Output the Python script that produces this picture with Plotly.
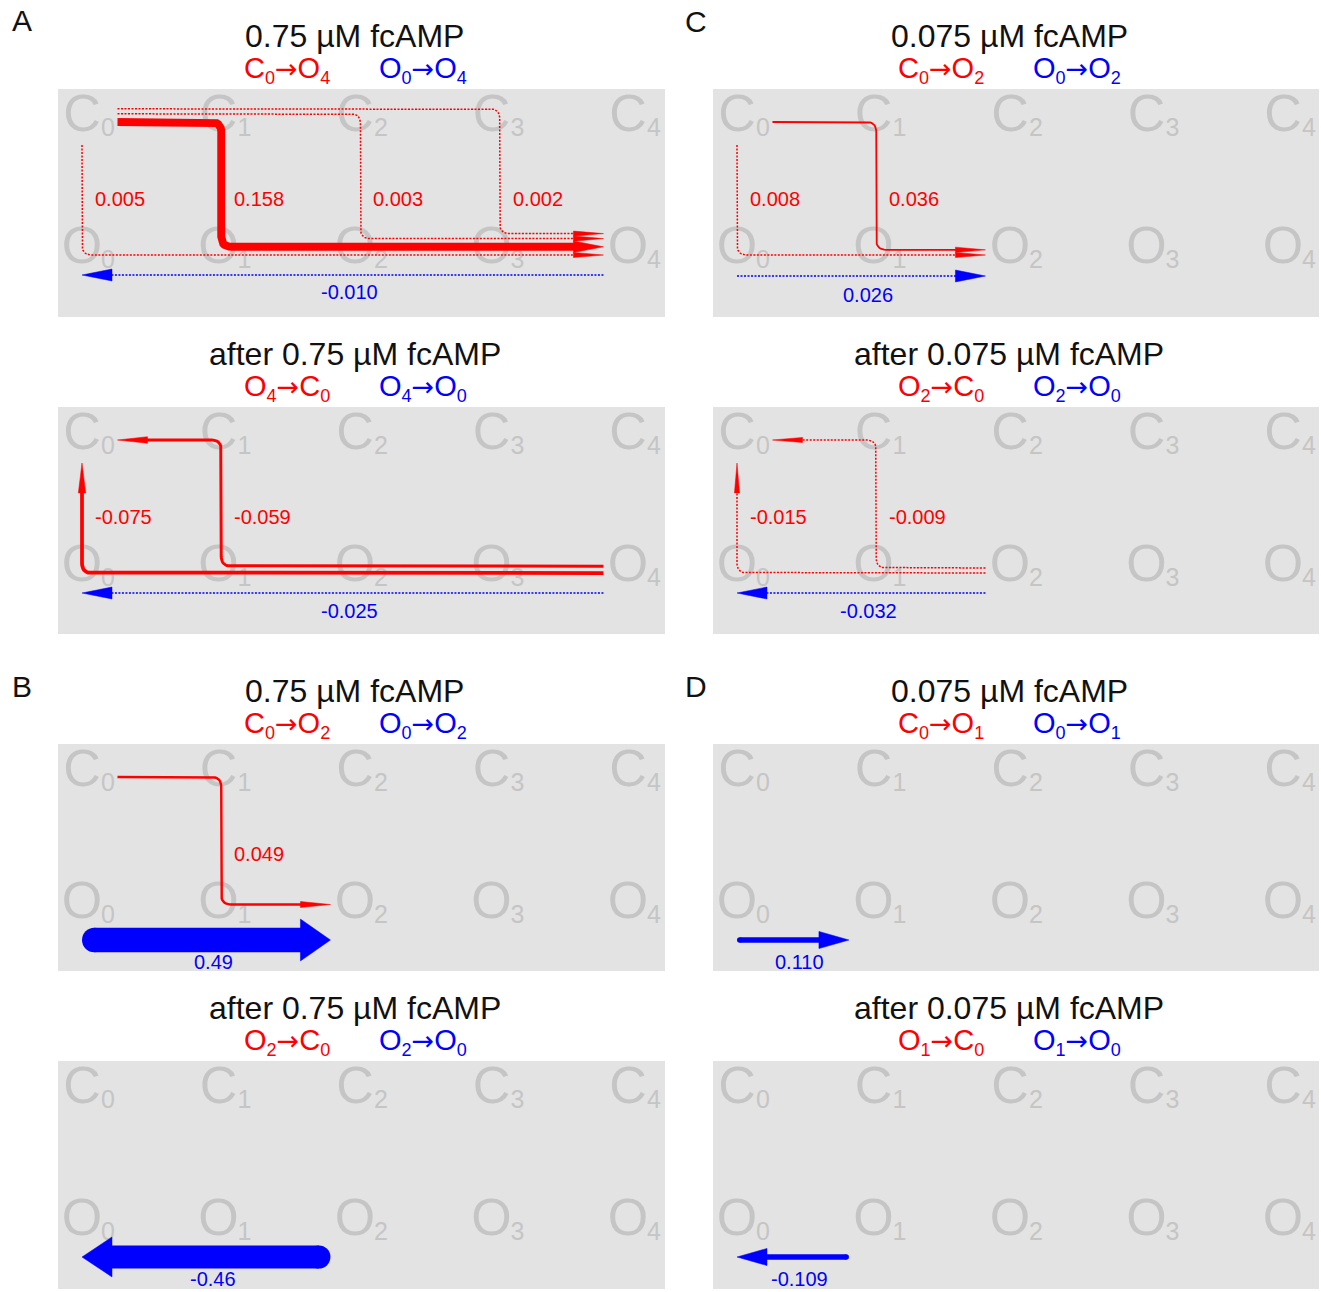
import numpy as np
import plotly.graph_objects as go

# ---------------- data ----------------
panel_ids = ["A1", "A2", "C1", "C2", "B1", "B2", "D1", "D2"]
panel_letters = {"A1": "A", "C1": "C", "B1": "B", "D1": "D"}
titles = ["0.75 µM fcAMP", "after 0.75 µM fcAMP", "0.075 µM fcAMP", "after 0.075 µM fcAMP",
          "0.75 µM fcAMP", "after 0.75 µM fcAMP", "0.075 µM fcAMP", "after 0.075 µM fcAMP"]
red_from = ["C0", "O4", "C0", "O2", "C0", "O2", "C0", "O1"]
red_to = ["O4", "C0", "O2", "C0", "O2", "C0", "O1", "C0"]
blue_from = ["O0", "O4", "O0", "O2", "O0", "O2", "O0", "O1"]
blue_to = ["O4", "O0", "O2", "O0", "O2", "O0", "O1", "O0"]
target_state = [4, 4, 2, 2, 2, 2, 1, 1]
# red paths: column k where the C->O transition happens, and flux value
red_cols = [[0, 1, 2, 3], [0, 1], [0, 1], [0, 1], [1], [], [], []]
red_vals = [[0.005, 0.158, 0.003, 0.002], [-0.075, -0.059], [0.008, 0.036],
            [-0.015, -0.009], [0.049], [], [], []]
red_labels = [["0.005", "0.158", "0.003", "0.002"], ["-0.075", "-0.059"], ["0.008", "0.036"],
              ["-0.015", "-0.009"], ["0.049"], [], [], []]
blue_vals = [-0.010, -0.025, 0.026, -0.032, 0.49, -0.46, 0.110, -0.109]
blue_labels = ["-0.010", "-0.025", "0.026", "-0.032", "0.49", "-0.46", "0.110", "-0.109"]
states = [0, 1, 2, 3, 4]
state_digits = ["0", "1", "2", "3", "4"]

# ---------------- layout constants (pixels) ----------------
FW, FH = 1321, 1292
boxes = {"A1": (58, 89, 665, 317), "A2": (58, 407, 665, 634),
         "C1": (713, 89, 1319, 317), "C2": (713, 407, 1319, 634),
         "B1": (58, 744, 665, 971), "B2": (58, 1061, 665, 1289),
         "D1": (713, 744, 1319, 971), "D2": (713, 1061, 1319, 1289)}
letter_pos = {"A1": (22, 21), "C1": (696, 22), "B1": (22, 686), "D1": (696, 686)}
blue_row = {"A1": 186, "A2": 186, "C1": 187, "C2": 186, "B1": 196, "B2": 196, "D1": 196, "D2": 196}
blue_lab_off = {"A1": 17, "A2": 18, "C1": 19, "C2": 18, "B1": 22, "B2": 22, "D1": 22, "D2": 22}
SX, SY = 136.5, 132.0
X0, YO = 24.0, 161.0  # state-0 x offset, O-row y offset (from panel top-left)
RED = "#ff0000"
BLUE = "#0000ff"
BG = "#e3e3e3"
LABEL_GRAY = "#c5c5c5"
FONT = "Liberation Sans, Arial, sans-serif"


def state_html(s):
    return f"{s[0]}<sub><span style='font-size:18px'>{s[1]}</span></sub>"


def trans_html(a, b):
    return (state_html(a) + "<span style='font-family:DejaVu Sans;font-size:27px'>→</span>"
            + state_html(b))


def d(xr, yr):
    return (xr - X0) / SX, (YO - yr) / SY


def flux_width(v):
    a = abs(v)
    return (50 * a, "solid") if a >= 0.035 else (1.5, "2px,1.5px")


def rounded(pts, r=10, n=10):
    out = [np.array(pts[0], float)]
    for i in range(1, len(pts) - 1):
        p0, p1, p2 = (np.array(p, float) for p in (pts[i - 1], pts[i], pts[i + 1]))
        d1 = (p0 - p1) / np.linalg.norm(p0 - p1)
        d2 = (p2 - p1) / np.linalg.norm(p2 - p1)
        a, b = p1 + d1 * r, p1 + d2 * r
        for t in np.linspace(0, 1, n):
            out.append((1 - t) ** 2 * a + 2 * (1 - t) * t * p1 + t ** 2 * b)
    out.append(np.array(pts[-1], float))
    return out


fig = go.Figure()
annotations = []
layout_axes = {}

for idx, pid in enumerate(panel_ids):
    L, T, R, B = boxes[pid]
    pw, ph = R - L, B - T
    n = idx + 1
    xa, ya = ("x" if n == 1 else f"x{n}"), ("y" if n == 1 else f"y{n}")
    xkey, ykey = ("xaxis" if n == 1 else f"xaxis{n}"), ("yaxis" if n == 1 else f"yaxis{n}")
    layout_axes[xkey] = dict(domain=[L / FW, R / FW], range=[-X0 / SX, (pw - X0) / SX],
                             showgrid=False, zeroline=False, showticklabels=False, ticks="",
                             fixedrange=True, anchor=ya, showline=False)
    layout_axes[ykey] = dict(domain=[1 - B / FH, 1 - T / FH], range=[(YO - ph) / SY, YO / SY],
                             showgrid=False, zeroline=False, showticklabels=False, ticks="",
                             fixedrange=True, anchor=xa, showline=False)

    # state labels
    for row, letter in ((1, "C"), (0, "O")):
        fig.add_trace(go.Scatter(x=states, y=[row] * len(states), mode="text",
                                 text=[letter] * len(states), textposition="middle center",
                                 textfont=dict(size=52, color=LABEL_GRAY, family=FONT),
                                 xaxis=xa, yaxis=ya, hoverinfo="skip", cliponaxis=False))
        fig.add_trace(go.Scatter(x=[s + 26 / SX for s in states], y=[row - 12 / SY] * len(states),
                                 mode="text", text=state_digits, textposition="middle center",
                                 textfont=dict(size=25, color=LABEL_GRAY, family=FONT),
                                 xaxis=xa, yaxis=ya, hoverinfo="skip", cliponaxis=False))

    Ts = target_state[idx]
    x_end = X0 + SX * (Ts - 0.18)

    # ---- red paths ----
    cols, vals, labs = red_cols[idx], red_vals[idx], red_labels[idx]
    if cols:
        kmax = max(cols)
        widths = [1.5] * (kmax + 1)
        for k, v in zip(cols, vals):
            widths[k] = flux_width(v)[0]
        sp = lambda a, b: (a + b) / 2 + 3.5
        yb = [166.0]
        for k in range(1, kmax + 1):
            yb.append(yb[-1] - sp(widths[k - 1], widths[k]))
        yt = {1: 33.0}
        for k in range(2, kmax + 1):
            yt[k] = yt[k - 1] - sp(widths[k - 1], widths[k])
        for k, v, lab in zip(cols, vals, labs):
            w, dash = flux_width(v)
            xv = X0 + SX * (k * 1.02)
            if k == 0:
                pts = [(xv, 56), (xv, yb[k]), (x_end, yb[k])]
            else:
                pts = [(X0 + SX * 0.26, yt[k]), (xv, yt[k]), (xv, yb[k]), (x_end, yb[k])]
            if v < 0:
                pts = pts[::-1]
            path = rounded(pts)
            tip = path[-1]
            dirv = path[-1] - path[-2]
            dirv = dirv / np.linalg.norm(dirv)
            hl, hw = 30.0, w / 2 + 1.8
            path[-1] = tip - dirv * (hl - 3)
            xs, ys = zip(*[d(p[0], p[1]) for p in path])
            fig.add_trace(go.Scatter(x=xs, y=ys, mode="lines",
                                     line=dict(color=RED, width=w, dash=dash),
                                     xaxis=xa, yaxis=ya, hoverinfo="skip"))
            base = tip - dirv * hl
            perp = np.array([-dirv[1], dirv[0]])
            tri = [tip, base + perp * hw, base - perp * hw, tip]
            tx, ty = zip(*[d(p[0], p[1]) for p in tri])
            fig.add_trace(go.Scatter(x=tx, y=ty, mode="lines", fill="toself", fillcolor=RED,
                                     line=dict(color=RED, width=0.5),
                                     xaxis=xa, yaxis=ya, hoverinfo="skip"))
            lx, ly = d(xv + 11, 110)
            annotations.append(dict(x=lx, y=ly, xref=xa, yref=ya, text=lab, showarrow=False,
                                    xanchor="left", yanchor="middle",
                                    font=dict(size=20, color=RED, family=FONT)))

    # ---- blue arrow ----
    bv = blue_vals[idx]
    w, dash = flux_width(bv)
    yrow = blue_row[pid]
    left, right = X0, x_end
    hl, hw = 30.0, 0.65 * w + 5
    if bv > 0:
        tip, tail, sgn = right, left, 1
    else:
        tip, tail, sgn = left, right, -1
    cap = w / 2 if dash == "solid" else 0
    tail_c = tail + sgn * cap
    body_end = tip - sgn * (hl - 3)
    xs, ys = zip(d(tail_c, yrow), d(body_end, yrow))
    fig.add_trace(go.Scatter(x=xs, y=ys, mode="lines", line=dict(color=BLUE, width=w, dash=dash),
                             xaxis=xa, yaxis=ya, hoverinfo="skip"))
    if dash == "solid":
        cx, cy = d(tail_c, yrow)
        fig.add_trace(go.Scatter(x=[cx], y=[cy], mode="markers",
                                 marker=dict(size=w, color=BLUE, line=dict(width=0)),
                                 xaxis=xa, yaxis=ya, hoverinfo="skip"))
    base = tip - sgn * hl
    tri = [(tip, yrow), (base, yrow - hw), (base, yrow + hw), (tip, yrow)]
    tx, ty = zip(*[d(p[0], p[1]) for p in tri])
    fig.add_trace(go.Scatter(x=tx, y=ty, mode="lines", fill="toself", fillcolor=BLUE,
                             line=dict(color=BLUE, width=0.5), xaxis=xa, yaxis=ya, hoverinfo="skip"))
    lx, ly = d((left + right) / 2 + 7, yrow + blue_lab_off[pid])
    annotations.append(dict(x=lx, y=ly, xref=xa, yref=ya, text=blue_labels[idx], showarrow=False,
                            xanchor="center", yanchor="middle",
                            font=dict(size=20, color=BLUE, family=FONT)))

    # ---- titles ----
    cxp = (L + R) / 2 - 7
    annotations.append(dict(x=cxp / FW, y=1 - (T - 53) / FH, xref="paper", yref="paper",
                            text=titles[idx], showarrow=False, xanchor="center", yanchor="middle",
                            font=dict(size=32, color="#111111", family=FONT)))
    annotations.append(dict(x=(cxp - 68) / FW, y=1 - (T - 19) / FH, xref="paper", yref="paper",
                            text=trans_html(red_from[idx], red_to[idx]), showarrow=False,
                            xanchor="center", yanchor="middle",
                            font=dict(size=29, color=RED, family=FONT)))
    annotations.append(dict(x=(cxp + 68) / FW, y=1 - (T - 19) / FH, xref="paper", yref="paper",
                            text=trans_html(blue_from[idx], blue_to[idx]), showarrow=False,
                            xanchor="center", yanchor="middle",
                            font=dict(size=29, color=BLUE, family=FONT)))
    if pid in panel_letters:
        px_, py_ = letter_pos[pid]
        annotations.append(dict(x=px_ / FW, y=1 - py_ / FH, xref="paper", yref="paper",
                                text=panel_letters[pid], showarrow=False, xanchor="center",
                                yanchor="middle", font=dict(size=30, color="#111111", family=FONT)))

fig.update_layout(width=FW, height=FH, margin=dict(l=0, r=0, t=0, b=0),
                  paper_bgcolor="white", plot_bgcolor=BG, showlegend=False,
                  annotations=annotations, **layout_axes)
fig.write_html("out.html", config={"displayModeBar": False},
               post_script="document.body.style.margin='0px';")
